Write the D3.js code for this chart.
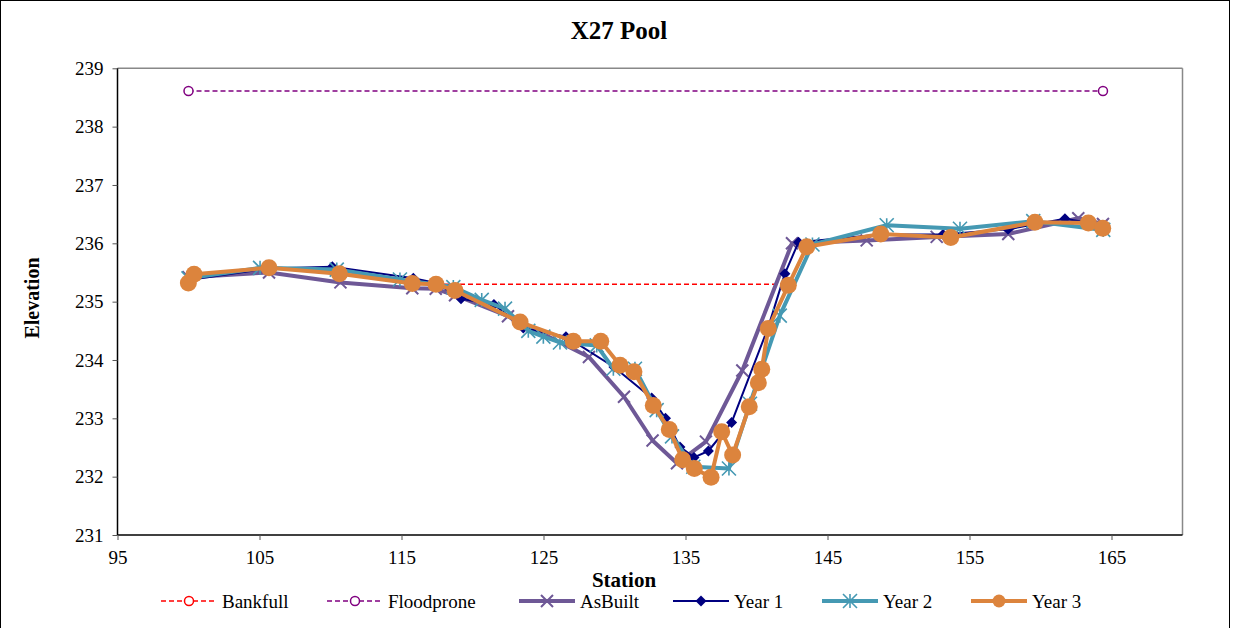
<!DOCTYPE html>
<html><head><meta charset="utf-8">
<script src="https://cdn.jsdelivr.net/npm/d3@7"></script>
<style>body{margin:0;background:#fff}svg{display:block}text{font-family:"Liberation Serif","Times New Roman",serif}</style>
</head><body><svg id="c" width="1235" height="628"></svg>
<script>
const title = "X27 Pool";
const xTicks = [95,105,115,125,135,145,155,165];
const yTicks = [231,232,233,234,235,236,237,238,239];
const seriesNames = ["Bankfull","Floodprone","AsBuilt","Year 1","Year 2","Year 3"];

const bankfull = [[117.43,235.30],[142.24,235.30]];
const floodprone = [[100,238.61],[164.4,238.61]];
const asBuilt = [[100,235.42],[105.67,235.5],[110.7,235.33],[115.76,235.23],[117.41,235.22],[118.77,235.11],[122.5,234.75],[128.2,234.05],[130.67,233.37],[132.68,232.62],[134.4,232.23],[136.44,232.6],[139.0,233.82],[142.5,236.0],[147.76,236.05],[152.69,236.11],[157.73,236.16],[162.66,236.43],[164.4,236.33]];
const year1 = [[100,235.37],[105.67,235.57],[110.13,235.6],[115.83,235.4],[117.43,235.32],[119.19,235.05],[121.51,234.95],[123.58,234.55],[126.58,234.4],[129.96,233.88],[132.62,233.35],[133.59,233.0],[134.61,232.51],[135.6,232.33],[136.61,232.44],[138.25,232.93],[140.81,234.55],[142.0,235.48],[142.96,236.02],[148.7,236.15],[153.14,236.15],[157.71,236.24],[161.72,236.42],[164.4,236.31]];
const year2 = [[100,235.40],[105.04,235.58],[110.44,235.55],[114.89,235.38],[118.65,235.25],[120.65,235.03],[122.29,234.88],[123.93,234.5],[124.99,234.4],[126.16,234.3],[128.75,234.25],[129.92,233.85],[131.44,233.85],[132.97,233.14],[134.05,232.69],[135.55,232.17],[138.06,232.14],[139.54,233.25],[141.64,234.76],[143.94,235.98],[149.17,236.31],[154.33,236.25],[159.49,236.38],[164.42,236.23]];
const year3 = [[99.99,235.32],[100.39,235.47],[105.67,235.58],[110.63,235.48],[115.76,235.31],[117.43,235.30],[118.77,235.19],[123.35,234.65],[127.1,234.32],[129.03,234.32],[130.39,233.91],[131.37,233.80],[132.73,233.22],[133.86,232.81],[134.80,232.29],[135.62,232.14],[136.80,231.99],[137.55,232.77],[138.32,232.37],[139.49,233.20],[140.13,233.61],[140.37,233.84],[140.83,234.54],[142.24,235.28],[143.54,235.94],[148.75,236.16],[153.68,236.10],[159.61,236.36],[163.37,236.35],[164.38,236.26]];

const svg = d3.select("#c");
const L=117.5, R=1182.5, T=68.3, B=535;
const x = d3.scaleLinear().domain([95,170]).range([L,R]);
const y = d3.scaleLinear().domain([231,239]).range([B,T]);

svg.append("rect").attr("x",0.5).attr("y",0.5).attr("width",1229).attr("height",640).attr("fill","none").attr("stroke","#000").attr("stroke-width",1);

svg.append("line").attr("x1",L).attr("x2",R).attr("y1",T).attr("y2",T).attr("stroke","#888").attr("stroke-width",1.5);
svg.append("line").attr("x1",R).attr("x2",R).attr("y1",T).attr("y2",B).attr("stroke","#888").attr("stroke-width",1.5);

const xAxis = svg.append("g").attr("transform",`translate(0,${B})`)
  .call(d3.axisBottom(x).tickValues(xTicks).tickSize(5).tickPadding(11).tickFormat(d3.format("d")));
const yAxis = svg.append("g").attr("transform",`translate(${L},0)`)
  .call(d3.axisLeft(y).tickValues(yTicks).tickSize(5).tickPadding(9).tickFormat(d3.format("d")));
[xAxis,yAxis].forEach(a=>{
  a.select(".domain").attr("stroke","#000").attr("stroke-width",1.5);
  a.selectAll(".tick line").attr("stroke","#555");
  a.selectAll(".tick text").attr("font-size",19).attr("fill","#000").style("font-family","'Liberation Serif',serif");
});
xAxis.select(".domain").attr("d",`M${L},0H${R}`);
yAxis.select(".domain").attr("d",`M0,${T}V${B}`);

svg.append("text").attr("x",619).attr("y",39).attr("text-anchor","middle").attr("font-size",25).attr("font-weight","bold").text(title);
svg.append("text").attr("x",624).attr("y",587).attr("text-anchor","middle").attr("font-size",21).attr("font-weight","bold").text("Station");
svg.append("text").attr("transform","translate(39,298) rotate(-90)").attr("text-anchor","middle").attr("font-size",20).attr("font-weight","bold").text("Elevation");

const line = d3.line().x(d=>x(d[0])).y(d=>y(d[1]));

function marker(g, type, color, cx, cy){
  if(type==="ocircle"){
    g.append("circle").attr("cx",cx).attr("cy",cy).attr("r",4.5).attr("fill","#fff").attr("stroke",color).attr("stroke-width",1.5);
  } else if(type==="x"){
    const s=6;
    g.append("path").attr("d",`M${cx-s},${cy-s}L${cx+s},${cy+s}M${cx-s},${cy+s}L${cx+s},${cy-s}`).attr("stroke",color).attr("stroke-width",2);
  } else if(type==="diamond"){
    const s=5.5;
    g.append("path").attr("d",`M${cx},${cy-s}L${cx+s},${cy}L${cx},${cy+s}L${cx-s},${cy}Z`).attr("fill",color);
  } else if(type==="star"){
    const s=7;
    g.append("path").attr("d",`M${cx-s},${cy-s}L${cx+s},${cy+s}M${cx-s},${cy+s}L${cx+s},${cy-s}M${cx},${cy-s}V${cy+s}`).attr("stroke",color).attr("stroke-width",1.6);
  } else if(type==="circle"){
    g.append("circle").attr("cx",cx).attr("cy",cy).attr("r",8.5).attr("fill",color);
  }
}

const series = [
  {name:seriesNames[0], data:bankfull, color:"#ff0000", w:1.5, dash:"5,3", m:"ocircle"},
  {name:seriesNames[1], data:floodprone, color:"#800080", w:1.5, dash:"5,3", m:"ocircle"},
  {name:seriesNames[2], data:asBuilt, color:"#6e5896", w:4, dash:null, m:"x"},
  {name:seriesNames[3], data:year1, color:"#000080", w:2, dash:null, m:"diamond"},
  {name:seriesNames[4], data:year2, color:"#4599b3", w:4, dash:null, m:"star"},
  {name:seriesNames[5], data:year3, color:"#dc843d", w:4, dash:null, m:"circle"}
];

series.forEach(s=>{
  const g = svg.append("g");
  g.append("path").datum(s.data).attr("d",line).attr("fill","none").attr("stroke",s.color)
   .attr("stroke-width",s.w).attr("stroke-dasharray",s.dash).attr("stroke-linejoin","round");
  s.data.forEach(d=>marker(g,s.m,s.color,x(d[0]),y(d[1])));
});

const legX = [161,327,519,673,822,971];
const legY = 601;
series.forEach((s,i)=>{
  const g = svg.append("g");
  const lx = legX[i];
  g.append("line").attr("x1",lx).attr("x2",lx+56).attr("y1",legY).attr("y2",legY).attr("stroke",s.color)
   .attr("stroke-width",s.w).attr("stroke-dasharray",s.dash);
  if(s.m==="circle"){ g.append("circle").attr("cx",lx+28).attr("cy",legY).attr("r",6.5).attr("fill",s.color); }
  else marker(g,s.m,s.color,lx+28,legY);
  g.append("text").attr("x",lx+61).attr("y",legY+6.5).attr("font-size",19).text(s.name);
});
</script></body></html>
